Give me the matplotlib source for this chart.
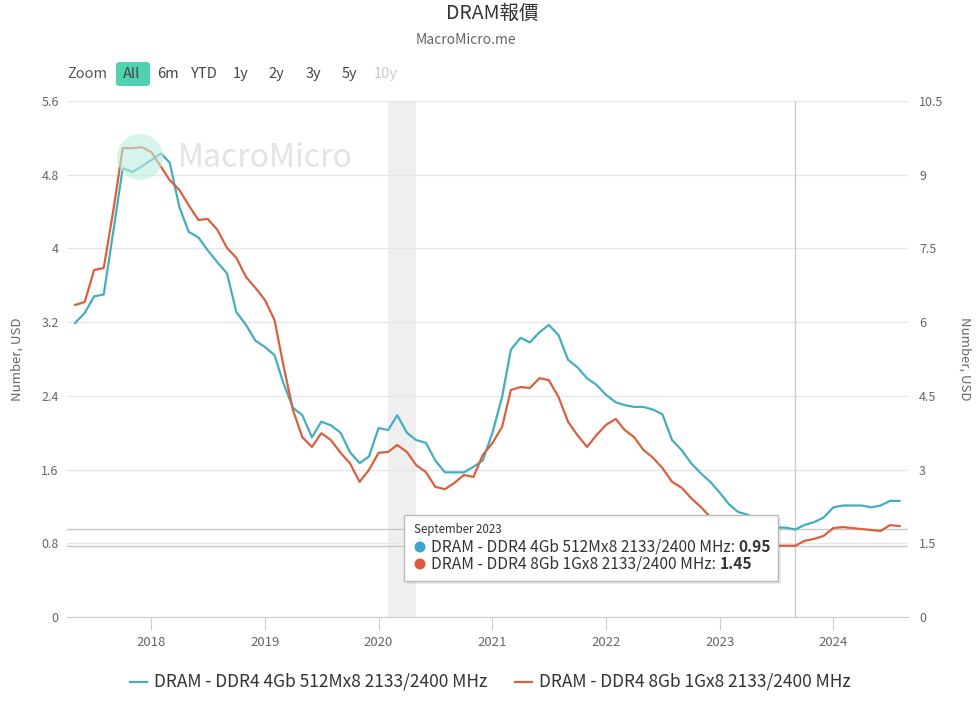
import numpy as np
import pandas as pd
import matplotlib
matplotlib.use("Agg")
import matplotlib.pyplot as plt
import matplotlib.dates as mdates
from matplotlib.patches import FancyBboxPatch, Circle, Rectangle

# ---------------------------------------------------------------------------
# Datos (mensuales, mayo 2017 - agosto 2024)
# ---------------------------------------------------------------------------
dates = pd.date_range("2017-05-01", "2024-08-01", freq="MS")

ddr4_4gb = [3.19, 3.30, 3.48, 3.50, 4.19, 4.87, 4.83, 4.89,
            4.96, 5.03, 4.93, 4.45, 4.18, 4.12, 3.98, 3.85, 3.73, 3.31, 3.17, 3.00,
            2.93, 2.84, 2.54, 2.27, 2.19, 1.95, 2.12, 2.08, 2.00, 1.79, 1.67, 1.74,
            2.05, 2.03, 2.19, 2.00, 1.92, 1.89, 1.70, 1.57, 1.57, 1.57, 1.63, 1.70,
            2.00, 2.39, 2.90, 3.03, 2.98, 3.09, 3.17, 3.06, 2.79, 2.71, 2.59, 2.52,
            2.41, 2.33, 2.30, 2.28, 2.28, 2.25, 2.20, 1.92, 1.81, 1.67, 1.56, 1.47,
            1.35, 1.22, 1.14, 1.11, 1.05, 1.00, 0.97, 0.97, 0.95, 1.00, 1.03, 1.08,
            1.19, 1.21, 1.21, 1.21, 1.19, 1.21, 1.26, 1.26]

ddr4_8gb = [6.35, 6.41, 7.06, 7.10, 8.28, 9.54, 9.54, 9.56,
            9.46, 9.16, 8.89, 8.69, 8.38, 8.08, 8.10, 7.88, 7.51, 7.31, 6.92, 6.70,
            6.45, 6.04, 5.13, 4.21, 3.66, 3.46, 3.74, 3.60, 3.34, 3.13, 2.75, 2.99,
            3.34, 3.36, 3.50, 3.36, 3.09, 2.95, 2.65, 2.60, 2.73, 2.89, 2.85, 3.30,
            3.54, 3.87, 4.62, 4.68, 4.66, 4.86, 4.82, 4.48, 3.97, 3.70, 3.46, 3.70,
            3.91, 4.03, 3.81, 3.66, 3.40, 3.24, 3.03, 2.75, 2.63, 2.42, 2.24, 2.04,
            1.83, 1.67, 1.57, 1.51, 1.47, 1.45, 1.45, 1.45, 1.45, 1.55, 1.59, 1.65,
            1.81, 1.83, 1.81, 1.79, 1.77, 1.75, 1.87, 1.85]

label_4gb = "DRAM - DDR4 4Gb 512Mx8 2133/2400 MHz"
label_8gb = "DRAM - DDR4 8Gb 1Gx8 2133/2400 MHz"
left_ticks = [0, 0.8, 1.6, 2.4, 3.2, 4, 4.8, 5.6]
right_ticks = [0, 1.5, 3, 4.5, 6, 7.5, 9, 10.5]
zoom_buttons = ["Zoom", "All", "6m", "YTD", "1y", "2y", "3y", "5y", "10y"]

# recesion sombreada y punto del tooltip
recession = (pd.Timestamp("2020-02-01"), pd.Timestamp("2020-05-01"))
hover_date = pd.Timestamp("2023-09-01")
hover_title = "September 2023"
hover_4gb = 0.95
hover_8gb = 1.45

BLUE = "#45adc0"
RED = "#d9603f"
W, H = 979, 706

plt.rcParams["font.family"] = ["Noto Sans CJK TC", "DejaVu Sans"]


def fx(x):
    return x / W


def fy(y):
    return 1 - y / H


fig = plt.figure(figsize=(W / 100, H / 100), dpi=100)
ax = fig.add_axes([fx(67), fy(617), fx(908) - fx(67), fy(101) - fy(617)])
ax2 = ax.twinx()

# fondo / recesion / crosshair
ax.axvspan(recession[0], recession[1], color="#efefef", zorder=0, lw=0)
ax.axvline(hover_date, color="#cccccc", lw=1, zorder=1)
ax.axhline(hover_4gb, color="#c8c8c8", lw=1, zorder=1)
ax2.axhline(hover_8gb, color="#c8c8c8", lw=1, zorder=1)

ax.plot(dates, ddr4_4gb, color=BLUE, lw=1.6, zorder=3)
ax2.plot(dates, ddr4_8gb, color=RED, lw=1.6, zorder=3)

ax.set_ylim(0, 5.6)
ax2.set_ylim(0, 10.5)
ax.set_yticks(left_ticks)
ax.set_yticklabels([f"{t:g}" for t in left_ticks])
ax2.set_yticks(right_ticks)
ax2.set_yticklabels([f"{t:g}" for t in right_ticks])
ax.set_xlim(pd.Timestamp("2017-04-05"), pd.Timestamp("2024-08-28"))
ax.xaxis.set_major_locator(mdates.YearLocator())
ax.xaxis.set_major_formatter(mdates.DateFormatter("%Y"))

ax.grid(axis="y", color="#e6e6e6", lw=1)
ax.set_axisbelow(True)
for a in (ax, ax2):
    for s in ("top", "left", "right"):
        a.spines[s].set_visible(False)
    a.spines["bottom"].set_color("#cccccc")
ax2.spines["bottom"].set_visible(False)

ax.tick_params(axis="y", length=0, pad=6, labelsize=9, labelcolor="#666666")
ax2.tick_params(axis="y", length=0, pad=8, labelsize=9, labelcolor="#666666")
ax.tick_params(axis="x", length=9, color="#cccccc", pad=5, labelsize=9.5,
               labelcolor="#666666")

ax.set_ylabel("Number, USD", color="#666666", fontsize=9.5, labelpad=13)
ax2.set_ylabel("Number, USD", color="#666666", fontsize=9.5, rotation=270,
               labelpad=20)

# titulo
fig.text(fx(492), fy(13), "DRAM報價", ha="center", va="center", fontsize=14,
         color="#333333")
fig.text(fx(466), fy(40), "MacroMicro.me", ha="center", va="center",
         fontsize=10, color="#666666")

# botones de zoom
btn_x = [87, 132, 168, 204, 241, 276, 313, 349, 386]
for name, bx in zip(zoom_buttons, btn_x):
    color = "#444444"
    if name == "10y":
        color = "#cccccc"
    if name == "Zoom":
        color = "#555555"
    if name == "All":
        fig.patches.append(FancyBboxPatch((fx(116), fy(86)), fx(34), fy(62) - fy(86),
                                          boxstyle="round,pad=0,rounding_size=0.004",
                                          transform=fig.transFigure,
                                          facecolor="#4fd2b0", edgecolor="none"))
    fig.text(fx(bx), fy(74), name, ha="center", va="center", fontsize=10.5,
             color=color)

# marca de agua (circulo en pulgadas para que sea redondo)
fig.patches.append(Circle((1.40, (H - 157) / 100), 0.23,
                          transform=fig.dpi_scale_trans,
                          facecolor="#bdeee0", alpha=0.6, edgecolor="none",
                          zorder=2))
fig.text(fx(178), fy(158), "MacroMicro", ha="left", va="center", fontsize=23,
         color="#e3e3e3", zorder=2)

# tooltip
fig.patches.append(Rectangle((fx(407), fy(584)), fx(374), fy(515) - fy(581),
                             transform=fig.transFigure, facecolor="#000000",
                             alpha=0.08, edgecolor="none", zorder=9))
fig.patches.append(Rectangle((fx(404), fy(581)), fx(374), fy(515) - fy(581),
                             transform=fig.transFigure, facecolor="white",
                             edgecolor="#bbbbbb", lw=1, zorder=10))
fig.text(fx(414), fy(530), hover_title, ha="left", va="center", fontsize=8.3,
         color="#333333", zorder=11)
for row_y, col, lab, val in [(547, "#3aa6d0", label_4gb, hover_4gb),
                             (564, "#e0583c", label_8gb, hover_8gb)]:
    fig.patches.append(Circle((4.20, (H - row_y) / 100), 0.055,
                              transform=fig.dpi_scale_trans,
                              facecolor=col, edgecolor="none", zorder=11))
    t = fig.text(fx(431), fy(row_y), lab + ": ", ha="left", va="center",
                 fontsize=11.2, color="#333333", zorder=11)
    fig.canvas.draw()
    bb = t.get_window_extent()
    fig.text(bb.x1 / W, fy(row_y), f"{val:.2f}", ha="left", va="center",
             fontsize=11.2, color="#333333", fontweight="bold", zorder=11)

# leyenda
for lx, col, lab in [(130, BLUE, label_4gb), (515, RED, label_8gb)]:
    fig.lines.append(plt.Line2D([fx(lx), fx(lx + 17)], [fy(682), fy(682)],
                                transform=fig.transFigure, color=col, lw=1.6))
    fig.text(fx(lx + 24), fy(682), lab, ha="left", va="center", fontsize=12.5,
             color="#333333")

fig.savefig("out.png", dpi=100)
